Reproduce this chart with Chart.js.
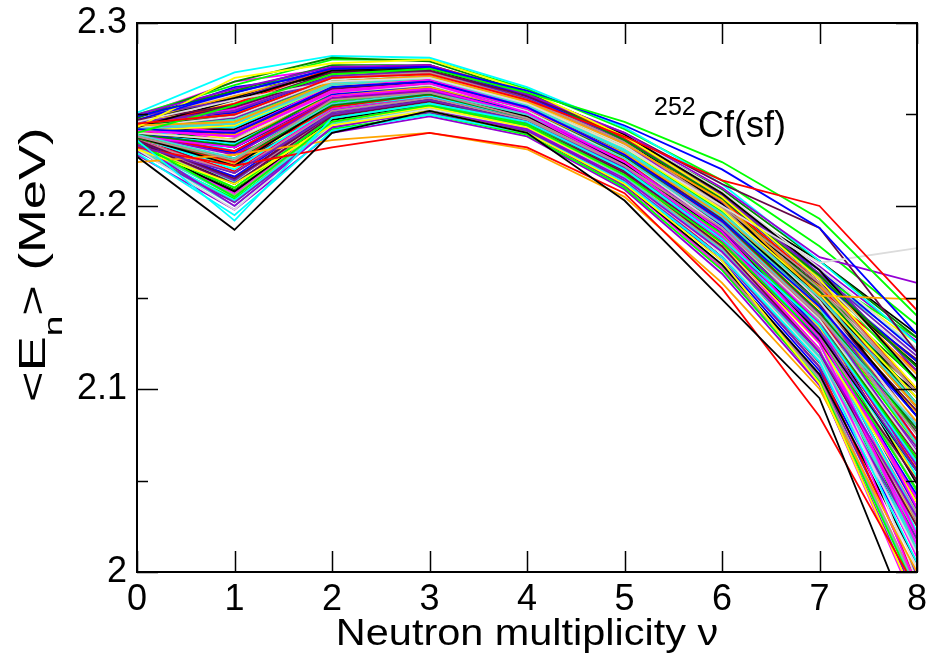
<!DOCTYPE html>
<html>
<head>
<meta charset="utf-8">
<script src="https://cdn.jsdelivr.net/npm/chart.js@4.4.0/dist/chart.umd.min.js"></script>
<style>
  html, body { margin: 0; padding: 0; background: #fff; }
  canvas { display: block; }
</style>
</head>
<body>
<canvas id="chart" width="930" height="657"></canvas>
<script>
// Multiplicity axis and tick positions
const multiplicity = [0, 1, 2, 3, 4, 5, 6, 7, 8];
const xTicksMajor = [0, 1, 2, 3, 4, 5, 6, 7, 8];
const yTicksMajor = [2.0, 2.1, 2.2, 2.3];
const yTicksMinor = [2.05, 2.15, 2.25];

// <E_n> (MeV) vs nu, one row per curve
const curves = [
  [2.227, 2.187, 2.240, 2.252, 2.240, 2.203, 2.149, 2.095, 1.963],
  [2.245, 2.250, 2.270, 2.272, 2.258, 2.238, 2.214, 2.200, 2.143],
  [2.240, 2.255, 2.272, 2.275, 2.262, 2.246, 2.224, 2.193, 2.140],
  [2.249, 2.262, 2.275, 2.276, 2.263, 2.244, 2.220, 2.188, 2.130],
  [2.243, 2.270, 2.278, 2.280, 2.263, 2.238, 2.205, 2.160, 2.100],
  [2.238, 2.225, 2.258, 2.262, 2.248, 2.222, 2.188, 2.140, 2.075],
  [2.246, 2.258, 2.268, 2.270, 2.256, 2.232, 2.200, 2.169, 2.177],
  [2.250, 2.264, 2.276, 2.277, 2.261, 2.240, 2.210, 2.172, 2.158],
  [2.236, 2.192, 2.248, 2.256, 2.246, 2.220, 2.182, 2.135, 2.060],
  [2.241, 2.238, 2.262, 2.267, 2.251, 2.224, 2.186, 2.128, 2.040],
  [2.244, 2.246, 2.268, 2.271, 2.257, 2.234, 2.203, 2.151, 2.149],
  [2.233, 2.218, 2.250, 2.258, 2.246, 2.220, 2.182, 2.132, 2.055],
  [2.247, 2.255, 2.273, 2.274, 2.260, 2.240, 2.212, 2.188, 2.120],
  [2.239, 2.226, 2.256, 2.262, 2.250, 2.226, 2.190, 2.140, 2.080],
  [2.248, 2.268, 2.281, 2.279, 2.262, 2.236, 2.204, 2.162, 2.112],

  [2.243, 2.258, 2.274, 2.276, 2.262, 2.239, 2.207, 2.165, 2.105],
  [2.232, 2.222, 2.232, 2.240, 2.232, 2.207, 2.155, 2.085, 1.990],
  [2.235, 2.205, 2.246, 2.255, 2.244, 2.217, 2.180, 2.128, 2.045],
  [2.242, 2.240, 2.265, 2.268, 2.254, 2.228, 2.192, 2.145, 2.085],
  [2.231, 2.212, 2.244, 2.252, 2.240, 2.212, 2.170, 2.103, 1.982],
  [2.245, 2.250, 2.270, 2.273, 2.258, 2.235, 2.200, 2.158, 2.098],
  [2.240, 2.236, 2.262, 2.266, 2.252, 2.226, 2.188, 2.138, 2.065],
  [2.234, 2.200, 2.243, 2.252, 2.242, 2.215, 2.175, 2.120, 2.030],
  [2.251, 2.273, 2.282, 2.281, 2.265, 2.243, 2.212, 2.170, 2.125],
  [2.238, 2.232, 2.260, 2.264, 2.250, 2.222, 2.183, 2.125, 2.020],
  [2.224, 2.228, 2.236, 2.240, 2.231, 2.205, 2.158, 2.100, 2.000],
  [2.246, 2.252, 2.271, 2.274, 2.259, 2.236, 2.205, 2.165, 2.110],
  [2.236, 2.215, 2.250, 2.258, 2.246, 2.219, 2.180, 2.126, 2.050],
  [2.242, 2.245, 2.266, 2.270, 2.255, 2.230, 2.196, 2.150, 2.092],
  [2.239, 2.233, 2.262, 2.266, 2.252, 2.227, 2.192, 2.142, 2.078],

  [2.238, 2.222, 2.256, 2.262, 2.249, 2.223, 2.186, 2.130, 2.055],
  [2.244, 2.256, 2.275, 2.277, 2.262, 2.237, 2.203, 2.158, 2.100],
  [2.233, 2.210, 2.248, 2.256, 2.245, 2.220, 2.185, 2.135, 2.062],
  [2.247, 2.262, 2.275, 2.277, 2.260, 2.236, 2.204, 2.160, 2.115],
  [2.241, 2.244, 2.266, 2.270, 2.256, 2.232, 2.198, 2.152, 2.095],
  [2.236, 2.218, 2.252, 2.259, 2.247, 2.222, 2.184, 2.130, 2.045],
  [2.243, 2.249, 2.269, 2.272, 2.257, 2.233, 2.198, 2.148, 2.080],
  [2.239, 2.228, 2.258, 2.263, 2.250, 2.224, 2.187, 2.135, 2.058],
  [2.229, 2.195, 2.241, 2.250, 2.240, 2.213, 2.172, 2.115, 2.005],
  [2.245, 2.240, 2.266, 2.269, 2.254, 2.228, 2.190, 2.136, 2.035],
  [2.240, 2.236, 2.260, 2.265, 2.252, 2.229, 2.195, 2.150, 2.090],
  [2.249, 2.258, 2.276, 2.276, 2.260, 2.237, 2.206, 2.163, 2.118],
  [2.235, 2.212, 2.249, 2.257, 2.245, 2.218, 2.178, 2.120, 2.025],
  [2.242, 2.247, 2.267, 2.270, 2.255, 2.230, 2.194, 2.145, 2.070],
  [2.237, 2.225, 2.255, 2.261, 2.248, 2.223, 2.187, 2.138, 2.062],

  [2.246, 2.259, 2.273, 2.275, 2.261, 2.236, 2.201, 2.150, 2.085],
  [2.237, 2.224, 2.254, 2.261, 2.249, 2.225, 2.190, 2.142, 2.072],
  [2.250, 2.266, 2.280, 2.280, 2.264, 2.242, 2.214, 2.178, 2.135],
  [2.240, 2.232, 2.261, 2.265, 2.251, 2.226, 2.189, 2.132, 2.040],
  [2.234, 2.210, 2.246, 2.254, 2.243, 2.217, 2.179, 2.125, 2.038],
  [2.243, 2.245, 2.267, 2.270, 2.256, 2.232, 2.199, 2.155, 2.098],
  [2.231, 2.198, 2.244, 2.253, 2.243, 2.215, 2.174, 2.116, 2.010],
  [2.245, 2.252, 2.271, 2.273, 2.258, 2.234, 2.199, 2.148, 2.072],
  [2.238, 2.220, 2.254, 2.260, 2.248, 2.222, 2.183, 2.128, 2.030],
  [2.242, 2.238, 2.263, 2.267, 2.253, 2.227, 2.187, 2.130, 2.015],
  [2.247, 2.260, 2.274, 2.276, 2.261, 2.238, 2.207, 2.162, 2.108],
  [2.236, 2.214, 2.251, 2.258, 2.247, 2.221, 2.185, 2.136, 2.068],
  [2.241, 2.240, 2.264, 2.268, 2.254, 2.229, 2.193, 2.146, 2.088],
  [2.233, 2.205, 2.245, 2.253, 2.243, 2.216, 2.176, 2.118, 2.020],
  [2.244, 2.250, 2.269, 2.272, 2.257, 2.233, 2.200, 2.154, 2.095],

  [2.240, 2.235, 2.262, 2.266, 2.253, 2.228, 2.194, 2.148, 2.100],
  [2.238, 2.230, 2.258, 2.263, 2.250, 2.225, 2.189, 2.138, 2.060],
  [2.243, 2.247, 2.268, 2.271, 2.257, 2.232, 2.197, 2.147, 2.075],
  [2.235, 2.216, 2.252, 2.259, 2.247, 2.221, 2.183, 2.127, 2.042],
  [2.246, 2.256, 2.272, 2.274, 2.259, 2.235, 2.203, 2.158, 2.100],
  [2.232, 2.206, 2.246, 2.254, 2.243, 2.216, 2.177, 2.121, 2.028],
  [2.248, 2.261, 2.276, 2.277, 2.262, 2.239, 2.208, 2.166, 2.122],
  [2.239, 2.230, 2.259, 2.264, 2.251, 2.226, 2.191, 2.141, 2.066],
  [2.244, 2.243, 2.266, 2.269, 2.255, 2.231, 2.196, 2.145, 2.052],
  [2.236, 2.218, 2.253, 2.259, 2.247, 2.220, 2.181, 2.120, 2.008],
  [2.241, 2.239, 2.263, 2.267, 2.253, 2.228, 2.193, 2.144, 2.082],
  [2.230, 2.202, 2.243, 2.252, 2.241, 2.214, 2.172, 2.112, 2.018],
  [2.245, 2.254, 2.271, 2.273, 2.258, 2.234, 2.201, 2.153, 2.090],
  [2.237, 2.222, 2.256, 2.262, 2.249, 2.224, 2.188, 2.137, 2.058],
  [2.249, 2.263, 2.277, 2.277, 2.261, 2.238, 2.209, 2.170, 2.128],

  [2.233, 2.208, 2.247, 2.256, 2.246, 2.221, 2.186, 2.142, 2.098],
  [2.242, 2.244, 2.266, 2.269, 2.254, 2.229, 2.192, 2.140, 2.062],
  [2.238, 2.226, 2.257, 2.263, 2.250, 2.224, 2.189, 2.140, 2.070],
  [2.244, 2.251, 2.270, 2.272, 2.257, 2.233, 2.200, 2.152, 2.080],
  [2.240, 2.236, 2.262, 2.266, 2.252, 2.227, 2.190, 2.134, 2.025],
  [2.235, 2.214, 2.250, 2.258, 2.246, 2.220, 2.182, 2.126, 2.040],
  [2.247, 2.257, 2.272, 2.274, 2.259, 2.235, 2.203, 2.160, 2.108],
  [2.241, 2.241, 2.264, 2.268, 2.254, 2.229, 2.194, 2.145, 2.078],
  [2.232, 2.203, 2.244, 2.253, 2.243, 2.217, 2.179, 2.128, 2.055],
  [2.246, 2.253, 2.270, 2.272, 2.256, 2.231, 2.195, 2.138, 2.020],
  [2.237, 2.223, 2.255, 2.261, 2.249, 2.225, 2.191, 2.146, 2.100],
  [2.243, 2.248, 2.268, 2.271, 2.256, 2.231, 2.196, 2.147, 2.085],
  [2.239, 2.232, 2.259, 2.264, 2.251, 2.225, 2.189, 2.138, 2.064],
  [2.234, 2.210, 2.248, 2.256, 2.245, 2.219, 2.181, 2.125, 2.012],
  [2.245, 2.255, 2.272, 2.273, 2.258, 2.233, 2.198, 2.150, 2.090],

  [2.241, 2.242, 2.265, 2.269, 2.255, 2.231, 2.198, 2.158, 2.113],
  [2.236, 2.219, 2.253, 2.260, 2.248, 2.223, 2.187, 2.136, 2.056],
  [2.248, 2.262, 2.276, 2.277, 2.262, 2.238, 2.206, 2.162, 2.104],
  [2.239, 2.229, 2.258, 2.263, 2.250, 2.224, 2.186, 2.130, 2.035],
  [2.243, 2.246, 2.267, 2.270, 2.255, 2.230, 2.194, 2.144, 2.068],
  [2.234, 2.212, 2.249, 2.257, 2.246, 2.221, 2.185, 2.133, 2.062],
  [2.237, 2.224, 2.256, 2.262, 2.249, 2.224, 2.187, 2.131, 1.995],
  [2.246, 2.254, 2.271, 2.273, 2.257, 2.232, 2.196, 2.146, 2.070],
  [2.240, 2.234, 2.261, 2.265, 2.252, 2.227, 2.191, 2.141, 2.064],
  [2.233, 2.207, 2.247, 2.255, 2.244, 2.218, 2.180, 2.122, 1.992],
  [2.242, 2.243, 2.265, 2.268, 2.254, 2.229, 2.195, 2.148, 2.087],
  [2.238, 2.226, 2.257, 2.263, 2.250, 2.225, 2.190, 2.140, 2.072],
  [2.244, 2.250, 2.269, 2.271, 2.256, 2.231, 2.197, 2.149, 2.076],
  [2.231, 2.200, 2.243, 2.252, 2.242, 2.216, 2.176, 2.117, 2.015],
  [2.247, 2.259, 2.274, 2.275, 2.260, 2.236, 2.203, 2.155, 2.092],

  [2.236, 2.212, 2.246, 2.252, 2.240, 2.212, 2.168, 2.108, 2.005],
  [2.242, 2.228, 2.250, 2.256, 2.244, 2.216, 2.172, 2.112, 1.995],
  [2.230, 2.204, 2.242, 2.250, 2.239, 2.210, 2.165, 2.104, 1.988],
  [2.239, 2.222, 2.247, 2.254, 2.242, 2.214, 2.170, 2.110, 2.010],
  [2.245, 2.236, 2.254, 2.258, 2.245, 2.218, 2.176, 2.118, 2.020],
  [2.234, 2.216, 2.245, 2.252, 2.241, 2.213, 2.167, 2.106, 1.992],
  [2.241, 2.226, 2.251, 2.256, 2.243, 2.215, 2.171, 2.113, 2.002],
  [2.228, 2.198, 2.240, 2.249, 2.238, 2.209, 2.163, 2.102, 1.985],
  [2.243, 2.230, 2.253, 2.257, 2.244, 2.217, 2.174, 2.115, 2.012],
  [2.237, 2.215, 2.246, 2.253, 2.241, 2.212, 2.166, 2.103, 1.980],
  [2.246, 2.240, 2.256, 2.259, 2.246, 2.219, 2.177, 2.120, 2.025],
  [2.232, 2.208, 2.244, 2.251, 2.240, 2.211, 2.168, 2.107, 1.998],
  [2.240, 2.224, 2.249, 2.255, 2.243, 2.215, 2.172, 2.114, 2.015],
  [2.235, 2.213, 2.245, 2.252, 2.240, 2.212, 2.167, 2.105, 1.990],
  [2.244, 2.234, 2.254, 2.258, 2.245, 2.217, 2.175, 2.117, 2.018],

  [2.250, 2.245, 2.262, 2.266, 2.255, 2.233, 2.203, 2.170, 2.130],
  [2.237, 2.214, 2.252, 2.260, 2.250, 2.227, 2.196, 2.155, 2.110],
  [2.233, 2.208, 2.249, 2.257, 2.248, 2.226, 2.198, 2.162, 2.128],
  [2.245, 2.232, 2.258, 2.263, 2.253, 2.231, 2.201, 2.165, 2.120],
  [2.239, 2.221, 2.254, 2.261, 2.251, 2.229, 2.199, 2.163, 2.125],
  [2.242, 2.229, 2.256, 2.262, 2.252, 2.230, 2.200, 2.161, 2.112],
  [2.236, 2.210, 2.250, 2.258, 2.249, 2.227, 2.197, 2.158, 2.118],
  [2.248, 2.241, 2.262, 2.265, 2.254, 2.232, 2.202, 2.167, 2.126],
  [2.234, 2.206, 2.247, 2.255, 2.246, 2.224, 2.193, 2.150, 2.100],
  [2.243, 2.236, 2.259, 2.264, 2.253, 2.230, 2.196, 2.150, 2.095],
  [2.231, 2.203, 2.246, 2.255, 2.246, 2.224, 2.194, 2.156, 2.115],
  [2.247, 2.238, 2.262, 2.266, 2.255, 2.232, 2.200, 2.160, 2.108],
  [2.238, 2.218, 2.253, 2.260, 2.250, 2.228, 2.197, 2.157, 2.116],
  [2.241, 2.226, 2.255, 2.261, 2.251, 2.229, 2.199, 2.162, 2.122],
  [2.235, 2.209, 2.248, 2.256, 2.247, 2.225, 2.195, 2.154, 2.105],

  [2.244, 2.260, 2.268, 2.270, 2.257, 2.231, 2.193, 2.138, 2.048],
  [2.239, 2.249, 2.266, 2.268, 2.254, 2.228, 2.189, 2.133, 2.038],
  [2.236, 2.241, 2.261, 2.265, 2.252, 2.226, 2.187, 2.134, 2.044],
  [2.247, 2.265, 2.272, 2.272, 2.257, 2.230, 2.190, 2.131, 2.028],
  [2.242, 2.254, 2.268, 2.270, 2.255, 2.229, 2.191, 2.136, 2.050],
  [2.233, 2.237, 2.259, 2.263, 2.250, 2.223, 2.183, 2.126, 2.032],
  [2.245, 2.262, 2.270, 2.271, 2.256, 2.230, 2.192, 2.137, 2.045],
  [2.240, 2.251, 2.266, 2.268, 2.253, 2.227, 2.188, 2.130, 2.026],
  [2.238, 2.244, 2.263, 2.266, 2.252, 2.225, 2.185, 2.128, 2.022],
  [2.249, 2.268, 2.275, 2.274, 2.258, 2.231, 2.191, 2.129, 2.012],
  [2.235, 2.239, 2.260, 2.264, 2.251, 2.225, 2.188, 2.135, 2.052],
  [2.243, 2.258, 2.269, 2.270, 2.255, 2.228, 2.189, 2.132, 2.034],
  [2.241, 2.252, 2.267, 2.269, 2.254, 2.227, 2.187, 2.128, 2.018],
  [2.237, 2.243, 2.262, 2.266, 2.252, 2.226, 2.186, 2.131, 2.040],
  [2.246, 2.263, 2.271, 2.272, 2.257, 2.231, 2.194, 2.140, 2.058]
];

// xmgrace default colour cycle
const graceColors = [
  '#000000', '#ff0000', '#00ff00', '#0000ff', '#ffff00',
  '#bc8f8f', '#dcdcdc', '#9400d3', '#00ffff', '#ff00ff',
  '#ffa500', '#7221bc', '#670748', '#40e0d0', '#008b00'
];

const FONT = '"Liberation Sans", Arial, Helvetica, sans-serif';

// frame, inward ticks and text labels in xmgrace style
const gracePlugin = {
  id: 'grace',
  afterDatasetsDraw(chart) {
    const { ctx, chartArea: a, scales: { x, y } } = chart;
    ctx.save();
    ctx.strokeStyle = '#000';
    ctx.lineWidth = 2;
    ctx.strokeRect(a.left, a.top, a.right - a.left, a.bottom - a.top);

    ctx.lineWidth = 1.5;
    ctx.beginPath();
    xTicksMajor.forEach(v => {
      const px = Math.round(x.getPixelForValue(v)) + 0.5;
      ctx.moveTo(px, a.bottom); ctx.lineTo(px, a.bottom - 21);
      ctx.moveTo(px, a.top); ctx.lineTo(px, a.top + 21);
    });
    yTicksMajor.forEach(v => {
      const py = Math.round(y.getPixelForValue(v)) + 0.5;
      ctx.moveTo(a.left, py); ctx.lineTo(a.left + 21, py);
      ctx.moveTo(a.right, py); ctx.lineTo(a.right - 21, py);
    });
    yTicksMinor.forEach(v => {
      const py = Math.round(y.getPixelForValue(v)) + 0.5;
      ctx.moveTo(a.left, py); ctx.lineTo(a.left + 11, py);
      ctx.moveTo(a.right, py); ctx.lineTo(a.right - 11, py);
    });
    ctx.stroke();
    ctx.restore();
  },
  afterDraw(chart) {
    const { ctx } = chart;
    ctx.save();
    ctx.fillStyle = '#000';
    ctx.textBaseline = 'alphabetic';
    ctx.textAlign = 'left';

    // 252Cf(sf)
    ctx.font = '25px ' + FONT;
    ctx.fillText('252', 654, 115);
    ctx.font = '36px ' + FONT;
    ctx.fillText('Cf(sf)', 698, 137);

    // x title
    ctx.save();
    ctx.translate(527, 645);
    ctx.scale(1.12, 1);
    ctx.textAlign = 'center';
    ctx.font = '37px ' + FONT;
    ctx.fillText('Neutron multiplicity \u03bd', 0, 0);
    ctx.restore();

    // y title <E_n> (MeV)
    ctx.save();
    ctx.translate(45, 402);
    ctx.rotate(-Math.PI / 2);
    ctx.scale(1.42, 1);
    ctx.font = '37px ' + FONT;
    ctx.fillText('<E', 0, 0);
    let w = ctx.measureText('<E').width;
    ctx.font = '26px ' + FONT;
    ctx.fillText('n', w, 17);
    w += ctx.measureText('n').width;
    ctx.font = '37px ' + FONT;
    ctx.fillText('> (MeV)', w, 0);
    ctx.restore();

    ctx.restore();
  }
};

new Chart(document.getElementById('chart'), {
  type: 'line',
  data: {
    datasets: curves.map((c, i) => ({
      data: c.map((v, k) => ({ x: multiplicity[k], y: v })),
      borderColor: graceColors[i % graceColors.length],
      borderWidth: 1.8,
      pointRadius: 0,
      tension: 0,
      fill: false,
      clip: 0
    }))
  },
  options: {
    responsive: false,
    animation: false,
    events: [],
    layout: { padding: { left: 0, top: 23, right: 13, bottom: 0 } },
    plugins: { legend: { display: false }, tooltip: { enabled: false } },
    scales: {
      x: {
        type: 'linear',
        min: 0,
        max: 8,
        ticks: {
          stepSize: 1,
          autoSkip: false,
          maxRotation: 0,
          padding: 6,
          color: '#000',
          font: { family: FONT, size: 36 }
        },
        grid: { display: false, drawTicks: false },
        border: { display: false },
        afterFit(s) { s.height = 85; s.paddingLeft = 0; s.paddingRight = 0; }
      },
      y: {
        min: 2.0,
        max: 2.3,
        ticks: {
          stepSize: 0.1,
          autoSkip: false,
          padding: 10,
          color: '#000',
          font: { family: FONT, size: 36 },
          callback: v => Math.abs(v - 2) < 1e-9 ? '2' : v.toFixed(1)
        },
        grid: { display: false, drawTicks: false },
        border: { display: false },
        afterFit(s) { s.width = 137; s.paddingTop = 0; s.paddingBottom = 0; }
      }
    }
  },
  plugins: [gracePlugin]
});
</script>
</body>
</html>
